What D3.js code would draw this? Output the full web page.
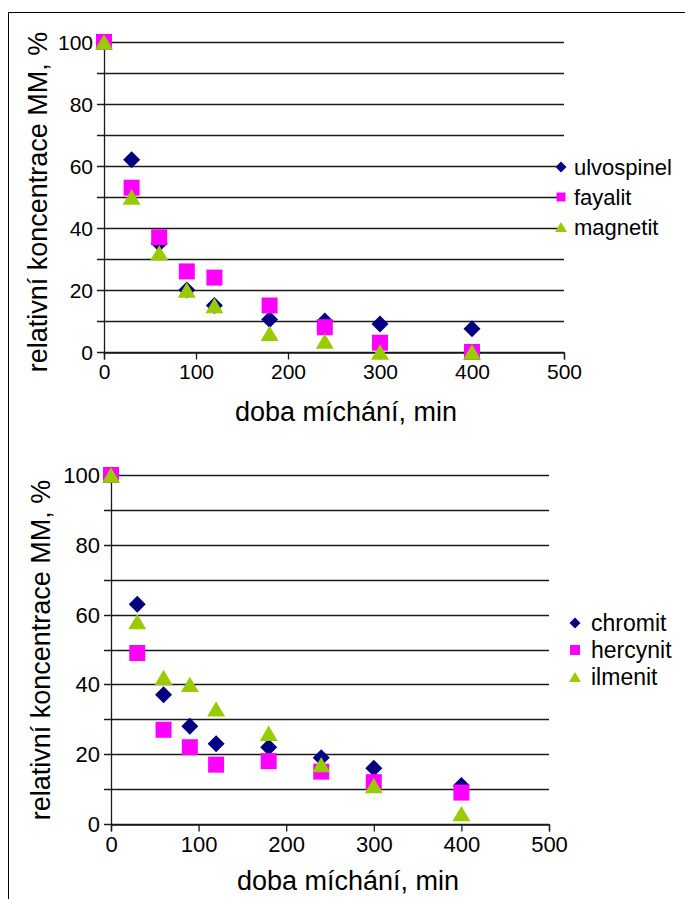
<!DOCTYPE html>
<html>
<head>
<meta charset="utf-8">
<script src="https://cdn.jsdelivr.net/npm/d3@7"></script>
<style>
  body { margin: 0; background: #fff; }
  svg { display: block; font-family: "Liberation Sans", Arial, sans-serif; }
</style>
</head>
<body>
<svg id="svg1" width="685" height="899"></svg>
<script>
// mixing time, min
var times = [0, 30, 60, 90, 120, 180, 240, 300, 400];

// top chart
var ulvospinel = [100, 62, 35, 20, 15, 10.5, 10, 9, 7.5];
var fayalit    = [100, 53, 37, 26, 24, 15, 8, 3, 0];
var magnetit   = [100, 50, 32, 20, 15, 6, 3.5, 0, 0];

// bottom chart
var chromit  = [100, 63, 37, 28, 23, 22, 19, 16, 11];
var hercynit = [100, 49, 27, 22, 17, 18, 15, 12, 9];
var ilmenit  = [100, 58, 42, 40, 33, 26, 17, 11, 3];

var xTicks = [0, 100, 200, 300, 400, 500];
var yTicks = [0, 20, 40, 60, 80, 100];
var yGrid = d3.range(0, 101, 10);

var xTitle = 'doba míchání, min';
var yTitle = 'relativní koncentrace MM, %';

var colors = ['#000080', '#ff00ff', '#99cc00'];
var shapes = ['diamond', 'square', 'triangle'];

var svg = d3.select('#svg1');

// outer frame (top and left edges only)
svg.append('path')
    .attr('d', 'M8.5,899 V12.5 H685')
    .attr('fill', 'none')
    .attr('stroke', '#000')
    .attr('stroke-width', 1);

function markerPath(shape, s) {
    // s = marker width
    var h = s / 2;
    if (shape == 'diamond') return 'M0,' + (-h) + 'L' + h + ',0L0,' + h + 'L' + (-h) + ',0Z';
    if (shape == 'square') return 'M' + (-h) + ',' + (-h) + 'h' + s + 'v' + s + 'h' + (-s) + 'Z';
    var th = s * 0.85;
    return 'M0,' + (-th / 2) + 'L' + h + ',' + (th / 2) + 'L' + (-h) + ',' + (th / 2) + 'Z';
}

function drawChart(opt) {
    var scaleX = d3.scaleLinear().domain([0, 500]).range([opt.left, opt.right]);
    var scaleY = d3.scaleLinear().domain([0, 100]).range([opt.bottom, opt.top]);
    var g = svg.append('g');

    // gridlines + y ticks
    g.selectAll('.grid')
        .data(yGrid)
        .enter().append('line')
        .attr('x1', opt.left - 7)
        .attr('x2', opt.right)
        .attr('y1', function(d) { return Math.round(scaleY(d)) + 0.5; })
        .attr('y2', function(d) { return Math.round(scaleY(d)) + 0.5; })
        .attr('stroke', '#1a1a1a')
        .attr('stroke-width', 1.3);

    // y axis line
    g.append('line')
        .attr('x1', opt.left + 0.5).attr('x2', opt.left + 0.5)
        .attr('y1', scaleY(100)).attr('y2', scaleY(0) + 3)
        .attr('stroke', '#1a1a1a').attr('stroke-width', 1.3);

    // x axis
    var xAxis = g.append('g')
        .attr('transform', 'translate(0,' + (Math.round(scaleY(0)) + 0.5) + ')')
        .call(d3.axisBottom(scaleX).tickValues(xTicks).tickSize(7).tickPadding(5));
    xAxis.select('.domain').attr('stroke', '#1a1a1a').attr('stroke-width', 1.3);
    xAxis.selectAll('.tick line').attr('stroke', '#1a1a1a').attr('stroke-width', 1.3);
    xAxis.selectAll('.tick text')
        .attr('font-size', opt.tickFont + 'px')
        .attr('font-family', '"Liberation Sans", Arial, sans-serif')
        .attr('fill', '#000');

    // y tick labels
    g.selectAll('.ylab')
        .data(yTicks)
        .enter().append('text')
        .attr('x', opt.left - 11)
        .attr('y', function(d) { return scaleY(d); })
        .attr('dy', '0.36em')
        .attr('text-anchor', 'end')
        .attr('font-size', opt.tickFont + 'px')
        .text(function(d) { return d; });

    // axis titles
    g.append('text')
        .attr('x', opt.xTitleX)
        .attr('y', opt.xTitleY)
        .attr('text-anchor', 'middle')
        .attr('font-size', '27px')
        .text(xTitle);

    g.append('text')
        .attr('transform', 'translate(' + opt.yTitleX + ',' + opt.yTitleY + ') rotate(-90)')
        .attr('text-anchor', 'middle')
        .attr('font-size', '27px')
        .text(yTitle);

    // points
    opt.series.forEach(function(vals, i) {
        g.selectAll('.pt' + i)
            .data(vals)
            .enter().append('path')
            .attr('transform', function(d, j) { return 'translate(' + scaleX(times[j]) + ',' + scaleY(d) + ')'; })
            .attr('d', markerPath(shapes[i], opt.markerSizes[i]))
            .attr('fill', colors[i]);
    });

    // legend
    opt.names.forEach(function(name, i) {
        var ly = opt.legendY + i * opt.legendStep;
        g.append('path')
            .attr('transform', 'translate(' + opt.legendMarkX + ',' + ly + ')')
            .attr('d', markerPath(shapes[i], opt.legendMarkSizes[i]))
            .attr('fill', colors[i]);
        g.append('text')
            .attr('x', opt.legendTextX)
            .attr('y', ly)
            .attr('dy', '0.35em')
            .attr('font-size', opt.legendFont + 'px')
            .text(name);
    });
}

drawChart({
    left: 104, right: 564, top: 42, bottom: 352,
    tickFont: 21,
    xTitleX: 346, xTitleY: 421,
    yTitleX: 47, yTitleY: 202,
    series: [ulvospinel, fayalit, magnetit],
    names: ['ulvospinel', 'fayalit', 'magnetit'],
    markerSizes: [17, 16, 18],
    legendMarkSizes: [11, 9, 12],
    legendY: 167, legendStep: 30,
    legendMarkX: 561, legendTextX: 574, legendFont: 22
});

drawChart({
    left: 111, right: 549, top: 475, bottom: 824,
    tickFont: 22,
    xTitleX: 348, xTitleY: 890,
    yTitleX: 50, yTitleY: 650,
    series: [chromit, hercynit, ilmenit],
    names: ['chromit', 'hercynit', 'ilmenit'],
    markerSizes: [17, 16, 18],
    legendMarkSizes: [11, 10, 12],
    legendY: 623, legendStep: 27,
    legendMarkX: 575, legendTextX: 591, legendFont: 23
});
</script>
</body>
</html>
